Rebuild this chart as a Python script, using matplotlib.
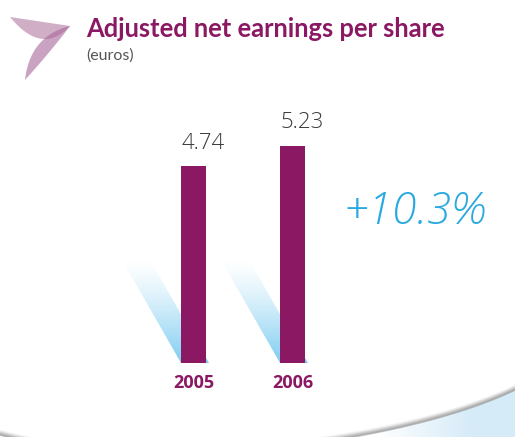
import numpy as np
import matplotlib.pyplot as plt
from matplotlib.patches import Polygon
from matplotlib.colors import to_rgb

# data
years = ['2005', '2006']
eps = [4.74, 5.23]
value_labels = ['4.74', '5.23']
growth = '+10.3%'

PURPLE = '#8b1862'
BLUE_TXT = '#2aa9e0'
W, H = 515, 437

fig = plt.figure(figsize=(W / 100, H / 100), dpi=100)

# background axes in pixel units for decorations
bg = fig.add_axes([0, 0, 1, 1])
bg.set_xlim(0, W)
bg.set_ylim(H, 0)
bg.axis('off')

# logo (two translucent leaves)
def bez(p0, c, p1, n=40):
    t = np.linspace(0, 1, n)[:, None]
    return (1 - t) ** 2 * np.array(p0) + 2 * (1 - t) * t * np.array(c) + t ** 2 * np.array(p1)

wing = np.vstack([[[10, 17], [70, 26]], bez((70, 26), (42, 56), (10, 17))])
leaf = np.vstack([bez((70, 26), (30, 36), (25, 80)), bez((25, 80), (52, 50), (70, 26))])
bg.add_patch(Polygon(wing, closed=True, fc='#b27aa1', ec='none', alpha=0.6))
bg.add_patch(Polygon(leaf, closed=True, fc='#a8649a', ec='none', alpha=0.6))

# title
fig.text(86 / W, 1 - 37 / H, 'Adjusted net earnings per share', color=PURPLE,
         fontsize=18.4, fontweight='bold', family='Lato', va='baseline')
fig.text(86 / W, 1 - 60 / H, '(euros)', color='#555555', fontsize=11.5,
         family='Lato', va='baseline')

# bottom swoosh
t = np.linspace(0, 1, 300)[:, None]
P = np.array([[0, 435], [150, 475], [400, 445], [515, 390]])
curve = ((1 - t) ** 3 * P[0] + 3 * (1 - t) ** 2 * t * P[1]
         + 3 * (1 - t) * t ** 2 * P[2] + t ** 3 * P[3])
cx, cy = curve[:, 0], curve[:, 1]

# light blue area under the curve
grad = np.zeros((2, 200, 4))
grad[..., :3] = to_rgb('#d6ebf8')
grad[..., 3] = np.clip((np.linspace(0, 1, 200) - 0.35) / 0.45, 0, 1)[None, :]
im = bg.imshow(grad, extent=[300, W, H, 380], aspect='auto', zorder=1,
               interpolation='bilinear')
clip = Polygon(np.vstack([curve, [[W, H], [0, H]]]), closed=True,
               transform=bg.transData, fc='none', ec='none')
bg.add_patch(clip)
im.set_clip_path(clip)

for k in range(7):
    bg.plot(cx, cy - k * 0.8, color='#8e8e8e', lw=1.2, alpha=0.55 * (1 - k / 7) ** 1.5,
            solid_capstyle='butt', zorder=2)

# bar chart axes
ax = fig.add_axes([94.5 / W, 74 / H, 297 / W, 249.4 / H])
ax.set_xlim(-1, 2)
ax.set_ylim(0, 6)
ax.axis('off')
ax.patch.set_alpha(0)

xs = np.arange(len(years))

# faded blue shadows behind the bars
n = 120
shade = np.zeros((n, 2, 4))
shade[..., :3] = to_rgb('#7fcdf1')
shade[..., 3] = (np.linspace(0, 1, n) ** 1.3)[:, None]
for x in xs:
    poly = Polygon([[x - 0.722, 2.48], [x - 0.44, 2.48], [x + 0.157, 0], [x - 0.126, 0]],
                   closed=True, transform=ax.transData, fc='none', ec='none')
    ax.add_patch(poly)
    img = ax.imshow(shade, extent=[x - 0.8, x + 0.2, 0, 2.48], aspect='auto',
                    interpolation='bilinear', zorder=1)
    img.set_clip_path(poly)

ax.bar(xs, eps, width=0.2525, color=PURPLE, zorder=3)

for x, v, lab in zip(xs, eps, value_labels):
    ax.text(x + 0.1, v + 0.55, lab, ha='center', va='center', fontsize=16,
            color='#3a3a3a', family='Open Sans', fontweight='light')

for x, y in zip(xs, years):
    ax.text(x, -0.48, y, ha='center', va='center', fontsize=13, fontweight='bold',
            color=PURPLE, family='Open Sans', clip_on=False)

fig.text(415 / W, 1 - 212 / H, growth, color=BLUE_TXT, fontsize=32,
         style='italic', fontweight='light', family='Open Sans',
         ha='center', va='center')

fig.savefig('out.png', dpi=100)
